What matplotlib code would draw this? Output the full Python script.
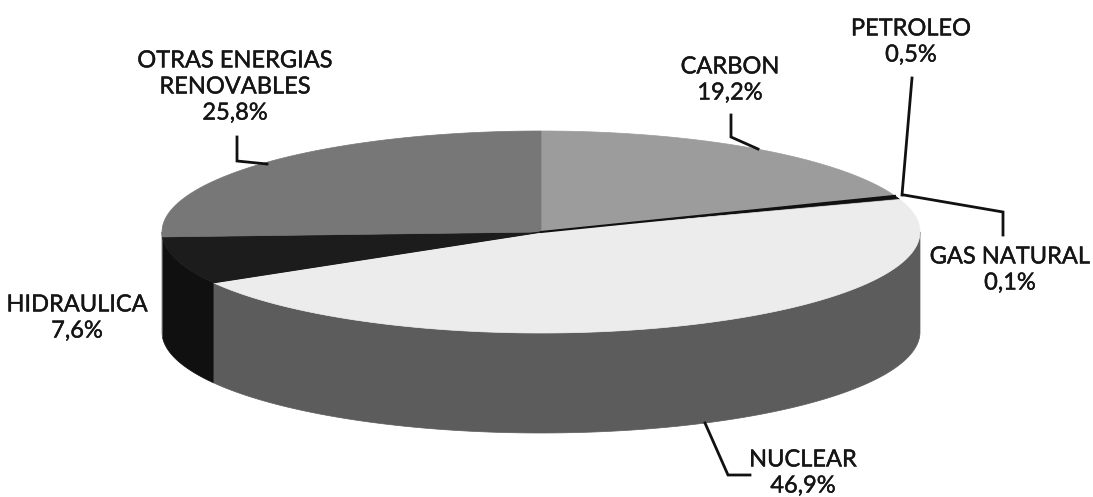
import numpy as np
import matplotlib
matplotlib.use("Agg")
import matplotlib.pyplot as plt
from matplotlib.patches import Polygon
import matplotlib.patheffects as pe

# ---- data ----
categories = ["CARBON", "PETROLEO", "GAS NATURAL", "NUCLEAR", "HIDRAULICA",
              "OTRAS ENERGIAS\nRENOVABLES"]
values = [19.2, 0.5, 0.1, 46.9, 7.6, 25.8]
top_colors = ["#9c9c9c", "#111111", "#2a2a2a", "#ececec", "#1c1c1c", "#777777"]
side_colors = ["#6a6a6a", "#0a0a0a", "#1a1a1a", "#5c5c5c", "#101010", "#5a5a5a"]

# ---- layout (pixel space) ----
W, H = 1093, 497
cx, cy = 541, 232
rx, ry = 379, 101
depth = 100

fig = plt.figure(figsize=(W / 100, H / 100), dpi=100)
ax = fig.add_axes([0, 0, 1, 1])
ax.set_xlim(0, W)
ax.set_ylim(H, 0)
ax.axis("off")

total = sum(values)
angles = [90.0]
for v in values:
    angles.append(angles[-1] - v / total * 360.0)


def pt(a_deg, dz=0.0):
    a = np.radians(a_deg)
    return cx + rx * np.cos(a), cy - ry * np.sin(a) + dz


# sides (front-facing part: angles within [-180, 0] modulo 360)
for i in range(len(values)):
    a0, a1 = angles[i], angles[i + 1]  # a0 > a1
    for shift in (0, -360, 360):
        lo = max(a1 + shift, -180)
        hi = min(a0 + shift, 0)
        if hi > lo:
            ts = np.linspace(hi, lo, 120)
            top = [pt(t) for t in ts]
            bot = [pt(t, depth) for t in ts[::-1]]
            ax.add_patch(Polygon(top + bot, closed=True, facecolor=side_colors[i],
                                 edgecolor=side_colors[i], lw=0.5, zorder=1))

# tops
for i in range(len(values)):
    a0, a1 = angles[i], angles[i + 1]
    ts = np.linspace(a0, a1, max(4, int(abs(a0 - a1) * 2)))
    poly = [(cx, cy)] + [pt(t) for t in ts]
    ax.add_patch(Polygon(poly, closed=True, facecolor=top_colors[i],
                         edgecolor=top_colors[i], lw=0.5, zorder=2))

# dark separator lines on the top face
x1, y1 = pt(angles[1])
ax.plot([cx, x1], [cy, y1], color="#111111", lw=1.5, zorder=3)
x4, y4 = pt(angles[4])
ax.plot([cx, x4], [cy, y4], color="#1c1c1c", lw=1.0, zorder=3)


def pct(v):
    return f"{v:.1f}".replace(".", ",") + "%"


font = dict(family=["Lato", "DejaVu Sans"], fontsize=17, color="#151515",
            ha="center", va="center", linespacing=1.3,
            path_effects=[pe.withStroke(linewidth=0.3, foreground="#151515")])

label_pos = [(730, 80), (911, 42), (1010, 270), (803, 473), (77, 318), (235, 87)]
for i, (lx, ly) in enumerate(label_pos):
    ax.text(lx, ly, categories[i] + "\n" + pct(values[i]), **font)

lw = 2.0
leaders = [
    [(731, 115), (731, 137), (758, 149)],
    [(912, 78), (902, 195)],
    [(904, 195), (1003, 212), (1003, 235)],
    [(705, 423), (728, 475), (750, 475)],
    [(237, 137), (237, 161), (267, 164)],
]
for seg in leaders:
    xs, ys = zip(*seg)
    ax.plot(xs, ys, color="#111111", lw=lw, zorder=4, solid_joinstyle="miter")

fig.savefig("out.png", dpi=100)
